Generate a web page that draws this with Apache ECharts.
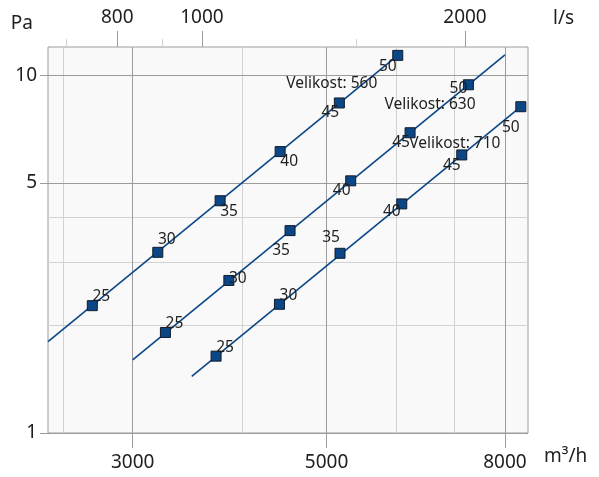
<!DOCTYPE html>
<html>
<head>
<meta charset="utf-8">
<script src="https://cdn.jsdelivr.net/npm/echarts@6/dist/echarts.min.js"></script>
<style>
  html, body { margin: 0; padding: 0; background: #ffffff; }
  #chart { width: 599px; height: 477px; }
</style>
</head>
<body>
<div id="chart"></div>
<script>
// Fan sizes and speed steps (labels shown beside each operating point)
const sizes = ['560', '630', '710'];
const speedSteps = [25, 30, 35, 40, 45, 50];

// Operating points: airflow in m³/h, pressure in Pa
const flow560 = [2697, 3205, 3777, 4424, 5171, 6031];
const pressure560 = [2.27, 3.20, 4.46, 6.12, 8.37, 11.37];
const flow630 = [3270, 3865, 4541, 5328, 6230, 7265];
const pressure630 = [1.91, 2.67, 3.68, 5.07, 6.91, 9.41];
const flow710 = [3737, 4416, 5180, 6095, 7139, 8341];
const pressure710 = [1.64, 2.29, 3.18, 4.37, 5.99, 8.17];

// System curves (straight lines on log-log axes), start and end points
const curveFlow560 = [2400, 6031];
const curvePressure560 = [1.80, 11.37];
const curveFlow630 = [3000, 8000];
const curvePressure630 = [1.60, 11.41];
const curveFlow710 = [3505, 8341];
const curvePressure710 = [1.44, 8.17];

// Axis ranges and tick values
const flowRange = [2400, 8500];           // m³/h
const pressureRange = [1, 12];            // Pa
const flowTicks = [3000, 5000, 8000];
const flowMinorTicks = [2500, 4000, 6000, 7000];
const litreTicks = [800, 1000, 2000];     // l/s
const litreMinorTicks = [700, 900, 1500];
const pressureTicks = [1, 5, 10];
const pressureMinorTicks = [2, 3, 4];
const M3H_PER_LS = 3.6;

// Label placement for each speed label, [dx, dy] from the marker centre
const speedLabelOffsets = [
  [[9, -9], [9, -13], [9, 11], [9, 10], [-9, 10], [-10, 11]],
  [[9, -9], [9, -2], [-9, 20], [-9, 10], [-9, 10], [-10, 4]],
  [[9, -9], [9, -9], [-9, -16], [-10, 8], [-10, 11], [-10, 21]]
];
// Placement of the size caption, [dx, dy] from the end of each curve
const sizeLabelOffsets = [[-66, 28], [-75, 50], [-66, 37]];

const FONT = 'Noto Sans';
const TEXT = '#1e1e1e';
const BLUE = '#0b4686';
const MAJOR_GRID = '#9c9c9c';
const MINOR_GRID = '#d2d2d2';

const pointSets = [
  [flow560, pressure560],
  [flow630, pressure630],
  [flow710, pressure710]
];
const curveSets = [
  [curveFlow560, curvePressure560],
  [curveFlow630, curvePressure630],
  [curveFlow710, curvePressure710]
];

const zip = (xs, ys) => xs.map((x, i) => [x, ys[i]]);
const plain = v => String(Math.round(v));
const labelFont = { fontFamily: FONT, fontSize: 15.5, color: TEXT, textBorderWidth: 0 };

const series = [];
sizes.forEach((size, s) => {
  const curve = zip(curveSets[s][0], curveSets[s][1]);
  series.push({
    type: 'line',
    name: 'Velikost: ' + size,
    xAxisIndex: 1,
    yAxisIndex: 1,
    data: curve.map((p, i) => ({
      value: p,
      label: i === curve.length - 1 ? {
        show: true,
        position: 'inside',
        offset: sizeLabelOffsets[s],
        formatter: 'Velikost: ' + size
      } : { show: false }
    })),
    symbol: 'circle',
    symbolSize: 0,
    showSymbol: true,
    silent: true,
    lineStyle: { color: BLUE, width: 1.6 },
    itemStyle: { color: BLUE },
    label: labelFont,
    emphasis: { disabled: true },
    z: 2
  });
});
sizes.forEach((size, s) => {
  const pts = zip(pointSets[s][0], pointSets[s][1]);
  series.push({
    type: 'scatter',
    name: size,
    xAxisIndex: 1,
    yAxisIndex: 1,
    data: pts.map((p, i) => ({
      value: p,
      label: { offset: speedLabelOffsets[s][i], formatter: String(speedSteps[i]) }
    })),
    symbol: 'rect',
    symbolSize: 10,
    itemStyle: { color: BLUE, opacity: 1, borderColor: '#111c2b', borderWidth: 1 },
    label: Object.assign({ show: true, position: 'inside' }, labelFont),
    emphasis: { disabled: true },
    silent: true,
    z: 3
  });
});

const axisText = { fontFamily: FONT, fontSize: 19, color: TEXT };

const option = {
  animation: false,
  backgroundColor: '#ffffff',
  grid: {
    left: 48,
    right: 71,
    top: 47,
    bottom: 44,
    show: true,
    backgroundColor: '#f9f9f9',
    borderColor: MAJOR_GRID,
    borderWidth: 1
  },
  xAxis: [
    { // minor grid lines for airflow
      type: 'log', position: 'bottom', min: flowRange[0], max: flowRange[1],
      axisLine: { show: false },
      axisTick: { show: false, customValues: flowMinorTicks },
      axisLabel: { show: false, customValues: flowMinorTicks },
      splitLine: { show: true, lineStyle: { color: MINOR_GRID, width: 1 } },
      z: 0
    },
    { // airflow, m³/h
      type: 'log', position: 'bottom', min: flowRange[0], max: flowRange[1],
      name: 'm³/h',
      nameLocation: 'end',
      nameGap: 16,
      nameMoveOverlap: false,
      nameTextStyle: Object.assign({}, axisText, { verticalAlign: 'top', padding: [14, 0, 0, 0] }),
      axisLine: { show: false },
      axisTick: { show: true, customValues: flowTicks, length: 15, lineStyle: { color: MAJOR_GRID } },
      axisLabel: Object.assign({ customValues: flowTicks, formatter: plain, margin: 20 }, axisText),
      splitLine: { show: true, lineStyle: { color: MAJOR_GRID, width: 1 } },
      z: 1
    },
    { // minor ticks for airflow in l/s
      type: 'log', position: 'top',
      min: flowRange[0] / M3H_PER_LS, max: flowRange[1] / M3H_PER_LS,
      axisLine: { show: false },
      axisTick: { show: true, customValues: litreMinorTicks, length: 8, lineStyle: { color: MINOR_GRID } },
      axisLabel: { show: false, customValues: litreMinorTicks },
      splitLine: { show: false }
    },
    { // airflow, l/s
      type: 'log', position: 'top',
      min: flowRange[0] / M3H_PER_LS, max: flowRange[1] / M3H_PER_LS,
      name: 'l/s',
      nameLocation: 'end',
      nameGap: 25,
      nameMoveOverlap: false,
      nameTextStyle: Object.assign({}, axisText, { verticalAlign: 'bottom', padding: [0, 0, 19, 0] }),
      axisLine: { show: false },
      axisTick: { show: true, customValues: litreTicks, length: 16, lineStyle: { color: MAJOR_GRID } },
      axisLabel: Object.assign({ customValues: litreTicks, formatter: plain, margin: 20 }, axisText),
      splitLine: { show: false }
    }
  ],
  yAxis: [
    { // minor grid lines for pressure
      type: 'log', position: 'left', min: pressureRange[0], max: pressureRange[1],
      axisLine: { show: false },
      axisTick: { show: false, customValues: pressureMinorTicks },
      axisLabel: { show: false, customValues: pressureMinorTicks },
      splitLine: { show: true, lineStyle: { color: MINOR_GRID, width: 1 } },
      z: 0
    },
    { // pressure, Pa
      type: 'log', position: 'left', min: pressureRange[0], max: pressureRange[1],
      name: 'Pa',
      nameLocation: 'end',
      nameGap: 14,
      nameMoveOverlap: false,
      nameTextStyle: Object.assign({}, axisText, { align: 'right', padding: [0, 15, 0, 0] }),
      axisLine: { show: false },
      axisTick: { show: true, customValues: pressureTicks, length: 8, lineStyle: { color: MAJOR_GRID } },
      axisLabel: Object.assign({ customValues: pressureTicks, formatter: plain, margin: 11 }, axisText),
      splitLine: { show: true, lineStyle: { color: MAJOR_GRID, width: 1 } },
      z: 1
    }
  ],
  series: series
};

const chart = echarts.init(document.getElementById('chart'), null, { renderer: 'canvas' });
chart.setOption(option);
</script>
</body>
</html>
